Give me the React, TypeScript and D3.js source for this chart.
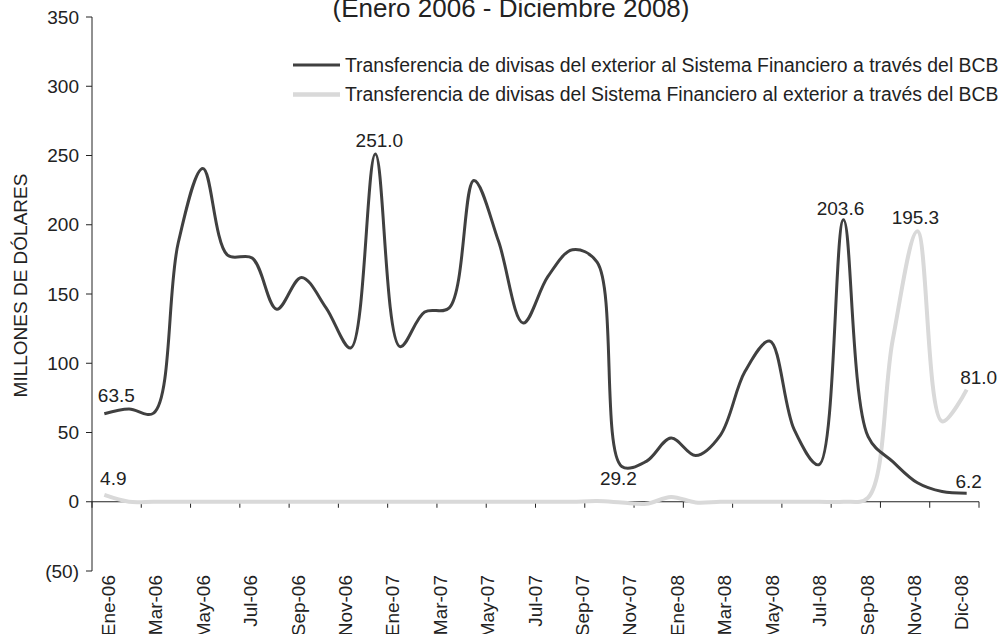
import React from "react";
import * as d3 from "d3";

const months = [
  "Ene-06", "Feb-06", "Mar-06", "Abr-06", "May-06", "Jun-06", "Jul-06", "Ago-06", "Sep-06", "Oct-06", "Nov-06", "Dic-06",
  "Ene-07", "Feb-07", "Mar-07", "Abr-07", "May-07", "Jun-07", "Jul-07", "Ago-07", "Sep-07", "Oct-07", "Nov-07", "Dic-07",
  "Ene-08", "Feb-08", "Mar-08", "Abr-08", "May-08", "Jun-08", "Jul-08", "Ago-08", "Sep-08", "Oct-08", "Nov-08", "Dic-08",
];

// etiquetas del eje X tal como aparecen en el grafico
const tickLabels = [
  "Ene-06", "Mar-06", "May-06", "Jul-06", "Sep-06", "Nov-06", "Ene-07", "Mar-07", "May-07", "Jul-07",
  "Sep-07", "Nov-07", "Ene-08", "Mar-08", "May-08", "Jul-08", "Sep-08", "Nov-08", "Dic-08",
];

const yTicks = [-50, 0, 50, 100, 150, 200, 250, 300, 350];

const entradas = [
  63.5, 67, 64, 187, 240.7, 178, 176, 139, 162, 140, 111, 251.0,
  112, 137, 140, 232, 188, 129, 162.5, 182, 173, 25.5, 29.2, 46,
  33.4, 48, 94, 116, 52, 26.7, 203.6, 47, 29, 13.7, 7.4, 6.2,
];

const salidas = [
  4.9, 0, 0, 0, 0, 0, 0, 0, 0, 0, 0, 0,
  0, 0, 0, 0, 0, 0, 0, 0, 0.5, -0.5, -1.5, 3.5,
  -0.5, 0, 0, 0, 0, 0, 0, 3, 117, 195.3, 58, 81.0,
];

const legendNames = [
  "Transferencia de divisas del exterior al Sistema Financiero a través del BCB",
  "Transferencia de divisas del Sistema Financiero al exterior a través del BCB",
];

const darkColor = "#404040";
const lightColor = "#d9d9d9";

// puntos con etiqueta de valor: serie, indice, desplazamiento
const annotations = [
  { s: 0, i: 0, dx: 12, dy: -12 },
  { s: 1, i: 0, dx: 9, dy: -10 },
  { s: 0, i: 11, dx: 4, dy: -7 },
  { s: 0, i: 22, dx: -28, dy: 24 },
  { s: 0, i: 30, dx: -3, dy: -5 },
  { s: 1, i: 33, dx: -2, dy: -7 },
  { s: 1, i: 35, dx: 12, dy: -6 },
  { s: 0, i: 35, dx: 2, dy: -5 },
];

const font = "'Liberation Sans', Arial, sans-serif";

const App = () => {
  const width = 998;
  const height = 634;

  const x = d3.scaleBand().domain(months).range([92, 979]);
  const bw = x.bandwidth();
  const cx = (m) => x(m) + bw / 2;
  const y = d3.scaleLinear().domain([-50, 350]).range([571, 17]);

  const labelX = d3
    .scalePoint()
    .domain(tickLabels)
    .range([cx(months[0]) + 4, cx(months[months.length - 1]) - 5]);

  const line = d3
    .line()
    .x((d, i) => cx(months[i]))
    .y((d) => y(d))
    .curve(d3.curveCatmullRom.alpha(0.5));

  const series = [entradas, salidas];
  const fmtY = (v) => (v < 0 ? `(${Math.abs(v)})` : `${v}`);

  const xTicks = d3.range(0, months.length + 1, 2).map((k) => 92 + k * bw);

  return (
    <svg
      width={width}
      height={height}
      style={{ position: "absolute", left: 0, top: 0, background: "#fff" }}
      fontFamily={font}
    >
      <text x={511} y={16.5} fontSize={26} textAnchor="middle" fill="#222">
        (Enero 2006 - Diciembre 2008)
      </text>

      {/* eje y */}
      <line x1={92} x2={92} y1={y(350)} y2={y(-50)} stroke="#222" />
      {yTicks.map((t) => (
        <g key={t}>
          <line x1={86} x2={92} y1={y(t)} y2={y(t)} stroke="#222" />
          <text x={79} y={y(t)} dy="0.35em" textAnchor="end" fontSize={19} fill="#222">
            {fmtY(t)}
          </text>
        </g>
      ))}
      <text
        transform={`translate(27, 285.5) rotate(-90)`}
        textAnchor="middle"
        fontSize={19}
        fill="#222"
      >
        MILLONES DE DÓLARES
      </text>

      {/* eje x */}
      <line x1={92} x2={979} y1={y(0)} y2={y(0)} stroke="#222" />
      {xTicks.map((t, i) => (
        <line key={i} x1={t} x2={t} y1={y(0)} y2={y(0) + 6} stroke="#222" />
      ))}
      {tickLabels.map((l) => (
        <text
          key={l}
          transform={`translate(${labelX(l)}, 575) rotate(-90)`}
          dy="0.35em"
          textAnchor="end"
          fontSize={19}
          fill="#222"
        >
          {l}
        </text>
      ))}

      {/* series */}
      <path d={line(salidas)} fill="none" stroke={lightColor} strokeWidth={4} />
      <path d={line(entradas)} fill="none" stroke={darkColor} strokeWidth={3} />

      {annotations.map((a, k) => {
        const v = series[a.s][a.i];
        return (
          <text
            key={k}
            x={cx(months[a.i]) + a.dx}
            y={y(v) + a.dy}
            textAnchor="middle"
            fontSize={19}
            fill="#222"
          >
            {v.toFixed(1)}
          </text>
        );
      })}

      {/* leyenda */}
      {legendNames.map((n, i) => (
        <g key={n} transform={`translate(0, ${65 + i * 29.5})`}>
          <line
            x1={293}
            x2={340}
            y1={0}
            y2={0}
            stroke={i === 0 ? darkColor : lightColor}
            strokeWidth={i === 0 ? 3 : 4.5}
          />
          <text x={345} y={0} dy="0.35em" fontSize={19.4} fill="#222">
            {n}
          </text>
        </g>
      ))}
    </svg>
  );
};

export default App;
